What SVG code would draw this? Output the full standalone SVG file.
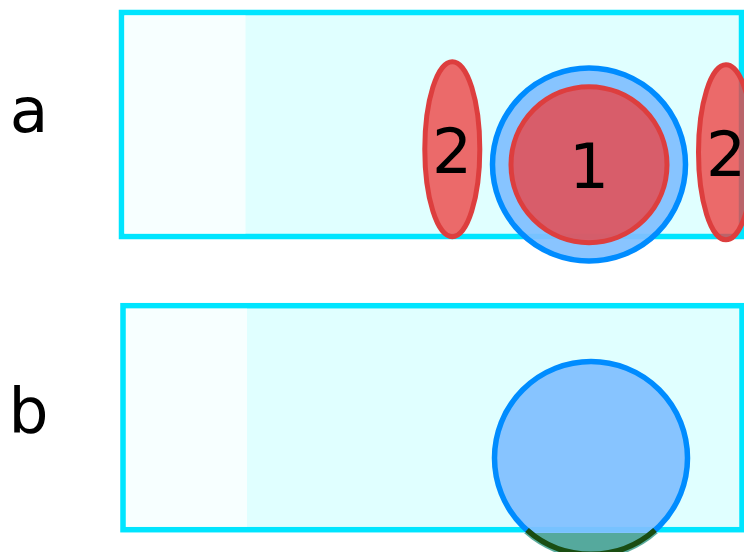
<svg xmlns="http://www.w3.org/2000/svg" width="744" height="552" viewBox="0 0 744 552">
<style>
.panel{fill:#E0FFFF;stroke:#00E5FF;stroke-width:5.5}
.shade{fill:#F7FFFF}
.blue{fill:#80BFFF;fill-opacity:0.93;stroke:#008CFF;stroke-width:5.5}
.red{fill:#EE4040;fill-opacity:0.78;stroke:#DD3E3E;stroke-width:5}
.lbl{font-family:"DejaVu Sans",sans-serif;font-size:63px;fill:#000;text-anchor:middle}
</style>
<rect width="744" height="552" fill="#fff"/>
<g id="panel-a">
  <rect class="panel" x="121.5" y="12.5" width="620" height="224"/>
  <rect class="shade" x="124.5" y="15.5" width="121" height="218"/>
  <text class="lbl" x="29" y="132">a</text>
</g>
<g id="panel-b">
  <rect class="panel" x="123" y="305.7" width="619" height="224"/>
  <rect class="shade" x="126" y="308.7" width="121" height="218"/>
  <text class="lbl" x="28.5" y="432">b</text>
</g>
<g id="node-blue-a">
  <circle class="blue" cx="589" cy="164.5" r="96.5"/>
</g>
<g id="node-1">
  <circle class="red" cx="589" cy="164.7" r="78"/>
  <text class="lbl" x="589" y="188">1</text>
</g>
<g id="node-2-left">
  <ellipse class="red" cx="452.3" cy="149.2" rx="27.5" ry="87.5"/>
  <text class="lbl" x="452" y="173">2</text>
</g>
<g id="node-2-right">
  <ellipse class="red" cx="726" cy="152.3" rx="27.5" ry="87.5"/>
  <text class="lbl" x="726" y="176">2</text>
</g>
<g id="node-blue-b">
  <circle class="blue" cx="591" cy="458" r="96.5"/>
  <path d="M 524 533 L 658 533 A 99 99 0 0 1 524 533 Z" fill="#52A898" opacity="0.95"/>
  <path d="M 527 530 A 96.5 96.5 0 0 0 655 530" fill="none" stroke="#1A4D12" stroke-width="5.5"/>
</g>
<g id="connectors"></g>
</svg>
